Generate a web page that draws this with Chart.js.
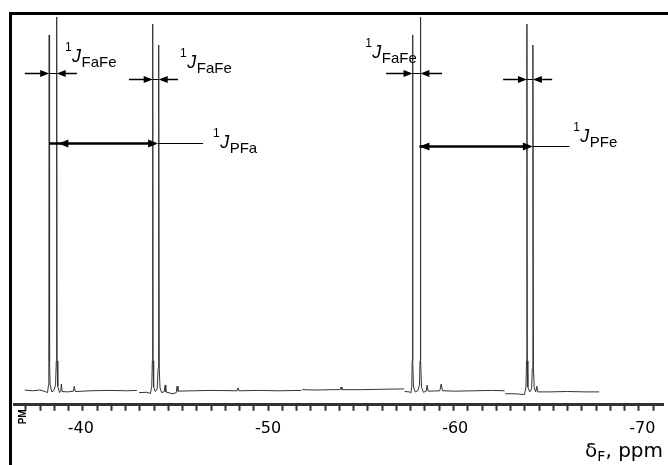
<!DOCTYPE html>
<html><head><meta charset="utf-8">
<script src="https://cdn.jsdelivr.net/npm/chart.js@4.4.1/dist/chart.umd.min.js"></script>
<style>
html,body{margin:0;padding:0;background:#fff;overflow:hidden;}
#wrap{position:relative;width:668px;height:465px;overflow:hidden;}
#frame{position:absolute;left:9px;top:12px;width:700px;height:500px;border-top:3px solid #000;border-left:3px solid #000;pointer-events:none;}
canvas{display:block;}
</style></head><body>
<div id="wrap"><canvas id="c" width="668" height="465"></canvas><div id="frame"></div></div>
<script>
// 19F NMR spectrum, chemical shift (ppm) and relative intensity; null = break between recorded segments
const shiftsPpm = [
 -37.01,-37.40,-37.80,-38.10,-38.22,-38.27,-38.29,-38.31,-38.33,-38.36,-38.45,-38.55,-38.65,-38.69,-38.71,-38.73,-38.77,-38.86,-38.93,-38.96,-39.00,-39.30,-39.60,-39.65,-39.70,-40.50,-41.50,-42.50,-43.00,
 -43.05,
 -43.11,-43.50,-43.72,-43.79,-43.82,-43.84,-43.86,-43.89,-43.98,-44.08,-44.13,-44.16,-44.19,-44.23,-44.32,-44.46,-44.50,-44.54,-44.90,-45.10,-45.14,-45.19,-46.00,-47.00,-48.35,-48.40,-48.45,-49.50,-50.50,-51.77,
 -51.80,
 -51.82,-52.50,-53.50,-53.85,-53.90,-53.95,-55.00,-56.00,-57.27,
 -57.29,
 -57.30,-57.55,-57.63,-57.68,-57.70,-57.72,-57.74,-57.77,-57.87,-58.00,-58.09,-58.12,-58.14,-58.16,-58.20,-58.30,-58.45,-58.50,-58.55,-59.18,-59.25,-59.32,-60.00,-61.00,-62.00,-62.64,
 -62.66,
 -62.67,-63.20,-63.70,-63.78,-63.81,-63.83,-63.85,-63.88,-63.98,-64.08,-64.12,-64.15,-64.18,-64.22,-64.30,-64.36,-64.42,-65.00,-66.00,-67.00,-67.69
];
const intensity = [
 0.2,0.0,0.2,-0.2,-0.5,1.5,8,95.2,8,1.5,-0.3,0.0,1.5,8,100,8,1.2,-0.5,0.0,1.8,-0.2,-0.3,-0.1,1.2,-0.2,0.0,0.1,0.0,0.1,
 null,
 -0.5,-0.4,-0.7,1.2,8,98.1,8,1.0,-0.2,0.5,6,92.5,6,0.8,-0.5,-0.2,1.5,-0.3,-0.8,-0.5,1.2,-0.1,0.0,0.1,0.0,0.8,0.0,0.1,0.0,0.1,
 null,
 0.3,0.2,0.3,0.3,1.0,0.3,0.3,0.4,0.5,
 null,
 -0.2,-0.3,-0.6,1.2,8,95.2,8,1.0,-0.3,0.0,1.5,8,100,8,1.0,-0.4,-0.1,1.5,-0.1,0.0,1.8,0.0,-0.1,0.0,0.1,0.0,
 null,
 -0.8,-0.8,-1.0,1.0,8,98.1,8,1.0,-0.3,0.5,6,92.5,6,0.8,-0.3,1.2,-0.3,-0.3,-0.2,-0.3,-0.3
];
const tickLabelValues = [-40,-50,-60,-70];
const minorTickStart = -37.06, minorTickStep = 0.7616, minorTickCount = 45;

// Coupling annotations (ppm, intensity units)
const fafeArrows = [ // [tail, tip, level]
 [-37.01,-38.31,85.0],[-39.79,-38.71,85.0],
 [-42.57,-43.84,83.4],[-45.19,-44.16,83.4],
 [-56.31,-57.72,85.0],[-59.30,-58.14,85.0],
 [-62.56,-63.83,83.4],[-65.18,-64.15,83.4]
];
const pfArrows = [ // [lineStart, leftTip, rightTip, leaderEnd, level]
 [-38.31,-38.80,-44.13,-46.53,66.2],
 [-58.09,-58.09,-64.15,-66.10,65.4]
];
const couplingLabels = [ // [left, baseline level, subscript]
 [-39.15,87.9,'FaFe'],[-45.30,86.3,'FaFe'],[-47.06,64.9,'PFa'],[-55.19,89.0,'FaFe'],[-66.30,66.5,'PFe']
];

const points = shiftsPpm.map((s,i)=>({x:s,y:intensity[i]}));

const annot = {
 id:'annot',
 afterDatasetsDraw(chart){
  const ctx=chart.ctx, xs=chart.scales.x, ys=chart.scales.y;
  const X=v=>xs.getPixelForValue(v), Y=v=>Math.round(ys.getPixelForValue(v))+0.5;
  ctx.save();
  ctx.fillStyle='#000'; ctx.strokeStyle='#000';
  function head(tip,y,dir,len,hw){
   ctx.beginPath();ctx.moveTo(tip,y);ctx.lineTo(tip-dir*len,y-hw);ctx.lineTo(tip-dir*len,y+hw);ctx.closePath();ctx.fill();
  }
  fafeArrows.forEach(([t,p,l])=>{
   const tx=X(t),px=X(p),y=Y(l),dir=Math.sign(px-tx);
   ctx.lineWidth=1.5;ctx.beginPath();ctx.moveTo(tx,y);ctx.lineTo(px-dir*4,y);ctx.stroke();
   head(px,y,dir,9,3.5);
  });
  for(let i=0;i<fafeArrows.length;i+=2){
   const y=Y(fafeArrows[i][2]);ctx.lineWidth=1;ctx.beginPath();ctx.moveTo(X(fafeArrows[i][1]),y);ctx.lineTo(X(fafeArrows[i+1][1]),y);ctx.stroke();
  }
  pfArrows.forEach(([s,lt,rt,le,l])=>{
   const y=Y(l);
   ctx.lineWidth=2.5;ctx.beginPath();ctx.moveTo(X(s),y);ctx.lineTo(X(rt)-6,y);ctx.stroke();
   head(X(lt),y,-1,10,4);head(X(rt),y,1,10,4);
   ctx.lineWidth=1;ctx.beginPath();ctx.moveTo(X(rt),y);ctx.lineTo(X(le),y);ctx.stroke();
  });
  couplingLabels.forEach(([s,l,sub])=>{
   let x=X(s);const b=Math.round(ys.getPixelForValue(l));
   ctx.textBaseline='alphabetic';ctx.textAlign='left';
   ctx.font='12px "Liberation Sans", Arial, sans-serif';ctx.fillText('1',x,b-11);x+=ctx.measureText('1').width+0.5;
   ctx.font='italic 18px "Liberation Sans", Arial, sans-serif';ctx.fillText('J',x,b);x+=ctx.measureText('J').width+0.5;
   ctx.font='15px "Liberation Sans", Arial, sans-serif';ctx.fillText(sub,x,b+5);
  });
  // axis captions
  const ca=chart.chartArea;
  ctx.font='20px "DejaVu Sans", sans-serif';
  const wD=ctx.measureText('δ').width, wR=ctx.measureText(', ppm').width;
  ctx.font='14px "DejaVu Sans", sans-serif';const wF=ctx.measureText('F').width;
  let x=ca.right-(wD+wF+wR);const bb=ca.bottom+52;
  ctx.font='20px "DejaVu Sans", sans-serif';ctx.fillText('δ',x,bb);x+=wD;
  ctx.font='14px "DejaVu Sans", sans-serif';ctx.fillText('F',x,bb+4);x+=wF;
  ctx.font='20px "DejaVu Sans", sans-serif';ctx.fillText(', ppm',x,bb);
  ctx.save();ctx.translate(ca.left+9,ca.bottom+12);ctx.rotate(-Math.PI/2);
  ctx.font='bold 10px "Liberation Sans", Arial, sans-serif';ctx.textAlign='center';ctx.textBaseline='middle';
  ctx.fillText('PM',0,0);ctx.restore();
  ctx.restore();
 }
};

new Chart(document.getElementById('c'),{
 type:'line',
 data:{datasets:[{data:points,borderColor:'#333',borderWidth:1,pointRadius:0,spanGaps:false,tension:0}]},
 options:{
  responsive:false,devicePixelRatio:1,animation:false,
  layout:{padding:{left:14,right:5,top:13,bottom:19}},
  plugins:{legend:{display:false},tooltip:{enabled:false}},
  scales:{
   x:{type:'linear',reverse:true,min:-71.1,max:-36.43,
    afterBuildTicks:(sc)=>{
     const t=[];for(let i=0;i<minorTickCount;i++)t.push({value:minorTickStart-i*minorTickStep});
     tickLabelValues.forEach(v=>t.push({value:v}));
     t.sort((a,b)=>b.value-a.value);sc.ticks=t;
    },
    ticks:{autoSkip:false,maxRotation:0,padding:8,color:'#000',font:{family:'"DejaVu Sans", sans-serif',size:16},
     callback:(v)=>tickLabelValues.includes(v)?String(v):''},
    grid:{drawOnChartArea:false,drawTicks:true,tickLength:6,tickWidth:2,
     tickColor:(c)=>(c.tick&&tickLabelValues.includes(c.tick.value))?'rgba(0,0,0,0)':'#333'},
    border:{display:true,color:'#333',width:3}
   },
   y:{display:false,min:-3.75,max:101.07}
  }
 },
 plugins:[annot]
});
</script>
</body></html>
